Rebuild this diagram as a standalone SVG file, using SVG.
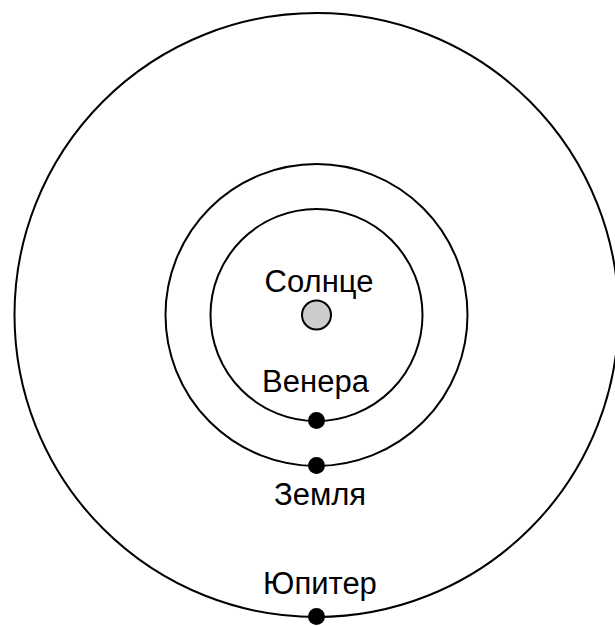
<svg xmlns="http://www.w3.org/2000/svg" width="615" height="626" viewBox="0 0 615 626">
<style>
.orbit{fill:none;stroke:#000;stroke-width:2}
.planet{fill:#000;stroke:none}
.sun{fill:#ccc;stroke:#000;stroke-width:2}
text{font-family:"Liberation Sans",Arial,sans-serif;font-size:31px;fill:#000;text-anchor:middle}
</style>
<rect width="615" height="626" fill="#fff"/>
<g id="orbits">
<circle class="orbit" cx="316.5" cy="315" r="302"/>
<circle class="orbit" cx="316.5" cy="315" r="151"/>
<circle class="orbit" cx="316.5" cy="315" r="106"/>
</g>
<g id="sun">
<circle class="sun" cx="316.5" cy="315" r="14.5"/>
<text x="319" y="292">Солнце</text>
</g>
<g id="venus">
<circle class="planet" cx="316.5" cy="420.5" r="8.5"/>
<text x="315.5" y="392">Венера</text>
</g>
<g id="earth">
<circle class="planet" cx="316.5" cy="465.5" r="8.5"/>
<text x="320" y="505">Земля</text>
</g>
<g id="jupiter">
<circle class="planet" cx="316.5" cy="616.5" r="8.5"/>
<text x="320" y="594">Юпитер</text>
</g>
</svg>
